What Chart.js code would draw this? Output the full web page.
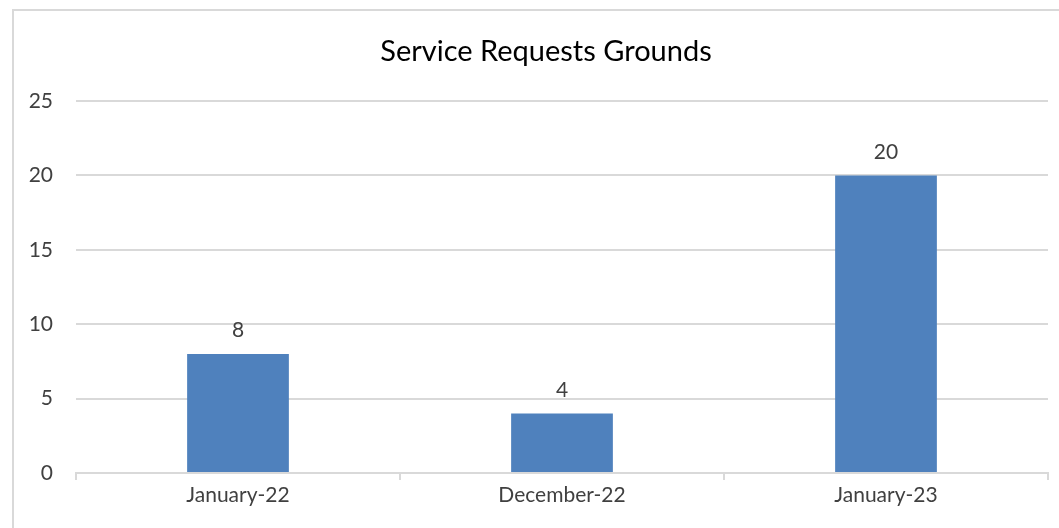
<!DOCTYPE html>
<html>
<head>
<meta charset="utf-8">
<script src="https://cdn.jsdelivr.net/npm/chart.js@4"></script>
<style>
  html, body { margin: 0; padding: 0; background: #fff; }
  #wrap { width: 1059px; height: 528px; position: relative; }
</style>
</head>
<body>
<div id="wrap"><canvas id="requestsChart"></canvas></div>
<script>
const chartTitle = 'Service Requests Grounds';
const months = ['January-22', 'December-22', 'January-23'];
const requests = [8, 4, 20];
const yTicks = [0, 5, 10, 15, 20, 25];

const FONT = 'Lato, "Liberation Sans", sans-serif';

// frame + title, drawn the way the spreadsheet chart shows them
const framePlugin = {
    id: 'frame',
    beforeDraw(chart) {
        const c = chart.ctx;
        c.save();
        c.fillStyle = '#fff';
        c.fillRect(0, 0, chart.width, chart.height);
        c.strokeStyle = '#d9d9d9';
        c.lineWidth = 2;
        c.beginPath();
        c.moveTo(13, chart.height);
        c.lineTo(13, 10);
        c.lineTo(chart.width, 10);
        c.stroke();
        c.fillStyle = '#000';
        c.font = '29px ' + FONT;
        c.textAlign = 'center';
        c.textBaseline = 'middle';
        c.fillText(chartTitle, 546, 52);
        c.restore();
    }
};

const valueLabels = {
    id: 'valueLabels',
    afterDatasetsDraw(chart) {
        const c = chart.ctx;
        const meta = chart.getDatasetMeta(0);
        c.save();
        c.fillStyle = '#404040';
        c.font = '21px ' + FONT;
        c.textAlign = 'center';
        c.textBaseline = 'bottom';
        meta.data.forEach(function (bar, i) {
            c.fillText(String(requests[i]), bar.x, bar.y - 13);
        });
        c.restore();
    }
};

const ctx = document.getElementById('requestsChart').getContext('2d');
const requestsChart = new Chart(ctx, {
    type: 'bar',
    data: {
        labels: months,
        datasets: [{
            label: chartTitle,
            data: requests,
            backgroundColor: '#4f81bd',
            borderWidth: 0,
            barPercentage: 0.314,
            categoryPercentage: 1.0
        }]
    },
    options: {
        responsive: true,
        maintainAspectRatio: false,
        animation: false,
        layout: { padding: { top: 101, right: 11, left: 0, bottom: 0 } },
        plugins: {
            legend: { display: false },
            title: { display: false },
            tooltip: { enabled: false }
        },
        scales: {
            x: {
                offset: true,
                grid: {
                    offset: true,
                    drawOnChartArea: false,
                    drawTicks: true,
                    tickLength: 7,
                    color: '#d9d9d9',
                    lineWidth: 2
                },
                border: { color: '#d9d9d9', width: 2 },
                ticks: { color: '#404040', font: { family: FONT, size: 21 }, padding: 3 },
                afterFit(scale) { scale.height = 55; }
            },
            y: {
                min: 0,
                max: 25,
                afterBuildTicks(scale) { scale.ticks = yTicks.map(v => ({ value: v })); },
                grid: { color: '#d9d9d9', lineWidth: 2, drawTicks: false },
                border: { display: false },
                ticks: { color: '#404040', font: { family: FONT, size: 21 }, padding: 23 },
                afterFit(scale) { scale.width = 76; }
            }
        }
    },
    plugins: [framePlugin, valueLabels]
});
</script>
</body>
</html>
